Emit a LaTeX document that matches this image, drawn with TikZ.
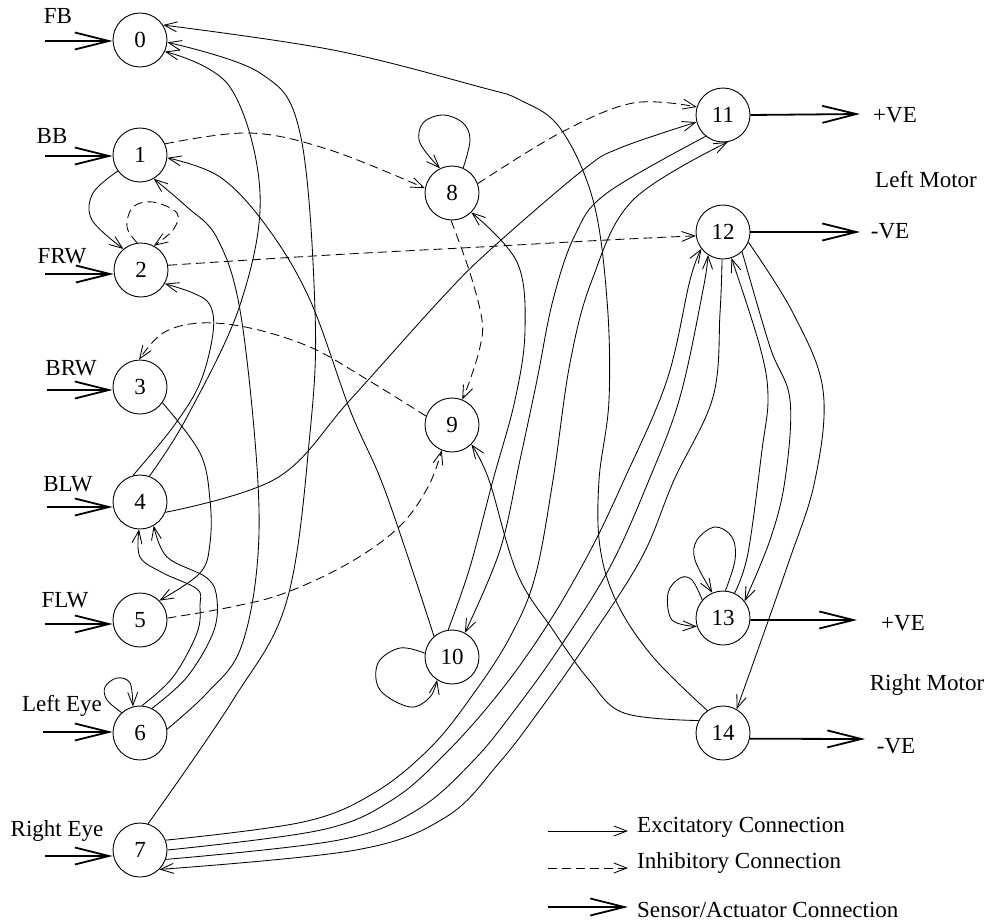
\documentclass[tikz,border=0pt]{standalone}
\usepackage{fontspec}
\setmainfont{Liberation Serif}
\usetikzlibrary{arrows.meta}
\tikzset{
  neuron/.style={circle, draw, line width=0.9pt, minimum size=54pt, inner sep=0pt,
    font=\fontsize{23}{27}\selectfont},
  lbl/.style={font=\fontsize{23}{27}\selectfont, anchor=base, inner sep=0pt},
  exc/.style={line width=0.85pt, -{Straight Barb[length=13pt,width=10pt]}},
  inh/.style={exc, dash pattern=on 9pt off 5pt},
  sens/.style={line width=1.8pt, -{Straight Barb[length=34pt,width=17pt]}},
}
\begin{document}
\begin{tikzpicture}[x=1pt,y=-1pt]
\useasboundingbox (0,0) rectangle (992,923);

% neurons
\node[neuron] (n0)  at (140,40)  {0};
\node[neuron] (n1)  at (140,155) {1};
\node[neuron] (n2)  at (141,270) {2};
\node[neuron] (n3)  at (140,387) {3};
\node[neuron] (n4)  at (140,502) {4};
\node[neuron] (n5)  at (140,620) {5};
\node[neuron] (n6)  at (140,733) {6};
\node[neuron] (n7)  at (140,850) {7};
\node[neuron] (n8)  at (452,193) {8};
\node[neuron] (n9)  at (452,425) {9};
\node[neuron] (n10) at (452,657) {10};
\node[neuron] (n11) at (723,115) {11};
\node[neuron] (n12) at (723,232) {12};
\node[neuron] (n13) at (723,618) {13};
\node[neuron] (n14) at (723,733) {14};

% sensor inputs
\node[lbl] (lFB)  at (58,24)  {FB};
\node[lbl] (lBB)  at (52,143) {BB};
\node[lbl] (lFRW) at (62,263) {FRW};
\node[lbl] (lBRW) at (71,375) {BRW};
\node[lbl] (lBLW) at (68,491) {BLW};
\node[lbl] (lFLW) at (65,607) {FLW};
\node[lbl] (lLE)  at (62,711) {Left Eye};
\node[lbl] (lRE)  at (57,836) {Right Eye};

\coordinate (in0) at (45,41);
\coordinate (in1) at (45,156);
\coordinate (in2) at (45,274);
\coordinate (in3) at (47,390);
\coordinate (in4) at (47,507);
\coordinate (in5) at (45,624);
\coordinate (in6) at (43,732);
\coordinate (in7) at (45,856);
\foreach \i in {0,...,7}{
  \draw[sens] (in\i) -- (in\i -| n\i.west);
}

% motor outputs
\coordinate (out11) at (860,114);
\coordinate (out12) at (860,232);
\coordinate (out13) at (857,620);
\coordinate (out14) at (865,739);
\draw[sens] (n11.east) -- (out11);
\draw[sens] (n12.east) -- (out12);
\draw[sens] (n13.-4) -- (out13);
\draw[sens] (n14.-12) -- (out14);
\node[lbl] (p11) at (895,122) {+VE};
\node[lbl] (lm)  at (926,187) {Left Motor};
\node[lbl] (m12) at (890,238) {-VE};
\node[lbl] (p13) at (903,630) {+VE};
\node[lbl] (rm)  at (927,690) {Right Motor};
\node[lbl] (m14) at (896,753) {-VE};

% excitatory connections
\draw[exc] plot[smooth,tension=0.6] coordinates {(n14.125) (653,657) (617,603) (600,547) (599,480) (609,400) (607,300) (593,200) (560,128) (520,100) (480,87) (333,50) (n0.33)};
\draw[exc] plot[smooth,tension=0.6] coordinates {(n14.153) (624,713) (589,680) (553,630) (517,573) (489,480) (n9.-45)};
\draw[exc] plot[smooth,tension=0.6] coordinates {(n7.73) (233,700) (287,600) (310,433) (315,310) (300,133) (260,73) (n0.-5)};
\draw[exc] plot[smooth,tension=0.6] coordinates {(n4.70) (187,417) (240,305) (260,193) (230,87) (n0.-25)};
\draw[exc] plot[smooth,tension=0.6] coordinates {(n6.8) (207,693) (240,650) (257,567) (257,467) (240,310) (217,238) (187,207) (n1.-60)};
\draw[exc] plot[smooth,tension=0.6] coordinates {(n10.131) (410,563) (381,480) (350,410) (310,300) (267,227) (220,177) (n1.-6)};
\draw[exc] plot[smooth,tension=0.6] coordinates {(n4.105) (173,427) (200,383) (213,333) (210,305) (193,293) (n2.-30)};
\draw[exc] plot[smooth,tension=0.6] coordinates {(n6.86) (173,677) (197,633) (200,605) (197,589) (163,573) (140,557) (n4.-92)};
\draw[exc] plot[smooth,tension=0.6] coordinates {(n6.64) (187,677) (213,633) (217,600) (207,578) (167,557) (n4.-60)};
\draw[exc] plot[smooth,tension=0.6] coordinates {(n3.-35) (200,453) (210,500) (210,543) (200,573) (n5.45)};
\draw[exc] plot[smooth,tension=0.6] coordinates {(n1.216) (93,193) (92,220) (n2.130)};
\draw[exc] plot[smooth,tension=0.6] coordinates {(n4.-22) (277,478) (350,400) (440,300) (490,250) (583,170) (620,148) (n11.195)};
\draw[exc] plot[smooth,tension=0.6] coordinates {(n10.98) (470,567) (493,480) (515,400) (525,330) (517,262) (n8.-45)};
\draw[exc] plot[smooth,tension=0.6] coordinates {(n11.231) (607,193) (575,235) (553,300) (537,380) (520,460) (500,550) (n10.62)};
\draw[exc] plot[smooth,tension=0.6] coordinates {(n7.21) (303,822) (374,793) (431,747) (474,693) (510,637) (535,577) (553,480) (570,363) (592,280) (633,200) (n11.-80)};
\draw[exc] plot[smooth,tension=0.6] coordinates {(n7.0) (321,830) (392,800) (446,753) (499,693) (546,627) (589,553) (624,480) (667,380) (690,280) (n12.218)};
\draw[exc] plot[smooth,tension=0.6] coordinates {(n7.-20) (339,840) (417,810) (474,760) (517,707) (560,647) (610,567) (649,480) (680,397) (703,290) (n12.237)};
\draw[exc] plot[smooth,tension=0.6] coordinates {(n12.268) (720,313) (713,397) (674,480) (642,557) (589,640) (542,707) (499,763) (446,817) (356,850) (n7.-45)};
\draw[exc] plot[smooth,tension=0.6] coordinates {(n13.65) (748,553) (762,450) (768,397) (760,347) (n12.-72)};
\draw[exc] plot[smooth,tension=0.6] coordinates {(n12.-46) (770,347) (790,400) (785,480) (770,540) (n13.38)};
\draw[exc] plot[smooth,tension=0.6] coordinates {(n12.-22) (793,313) (823,390) (815,480) (787,567) (n14.60)};

% self connections
\draw[exc] plot[smooth,tension=0.6] coordinates {(n13.85) (735,560) (732,537) (715,527) (697,540) (695,560) (n13.113)};
\draw[exc] plot[smooth,tension=0.6] coordinates {(n13.139) (692,580) (680,578) (668,593) (672,620) (n13.198)};
\draw[exc] plot[smooth,tension=0.6] coordinates {(n8.66) (470,140) (463,123) (443,115) (423,123) (420,143) (n8.116)};
\draw[exc] plot[smooth,tension=0.6] coordinates {(n10.172) (400,648) (378,663) (380,690) (410,707) (430,697) (n10.237)};
\draw[exc] plot[smooth,tension=0.6] coordinates {(n6.132) (107,700) (105,687) (117,678) (130,683) (n6.105)};

% inhibitory connections
\draw[inh] plot[smooth,tension=0.6] coordinates {(n2.98) (127,227) (133,207) (153,202) (177,213) (173,230) (n2.62)};
\draw[inh] plot[smooth,tension=0.6] coordinates {(n1.24) (250,133) (330,150) (n8.170)};
\draw[inh] plot[smooth,tension=0.6] coordinates {(n2.10) (330,255) (480,247) (607,240) (n12.188)};
\draw[inh] plot[smooth,tension=0.6] coordinates {(n8.20) (560,133) (633,103) (n11.163)};
\draw[inh] plot[smooth,tension=0.6] coordinates {(n8.-92) (470,273) (482,320) (480,347) (470,380) (n9.68)};
\draw[inh] plot[smooth,tension=0.6] coordinates {(n9.161) (363,377) (310,347) (250,328) (200,323) (163,333) (n3.92)};
\draw[inh] plot[smooth,tension=0.6] coordinates {(n5.4) (231,607) (285,593) (349,563) (399,527) (428,487) (n9.-112)};

% legend
\coordinate (ea) at (548,831); \coordinate (eb) at (628,831);
\coordinate (ia) at (548,868); \coordinate (ib) at (628,868);
\coordinate (sa) at (548,907); \coordinate (sb) at (628,907);
\draw[exc] (ea) -- (eb);
\draw[inh] (ia) -- (ib);
\draw[sens] (sa) -- (sb);
\node[lbl, anchor=base west] (le) at (637,832) {Excitatory Connection};
\node[lbl, anchor=base west] (li) at (637,868) {Inhibitory Connection};
\node[lbl, anchor=base west] (ls) at (637,917) {Sensor/Actuator Connection};
\end{tikzpicture}
\end{document}
